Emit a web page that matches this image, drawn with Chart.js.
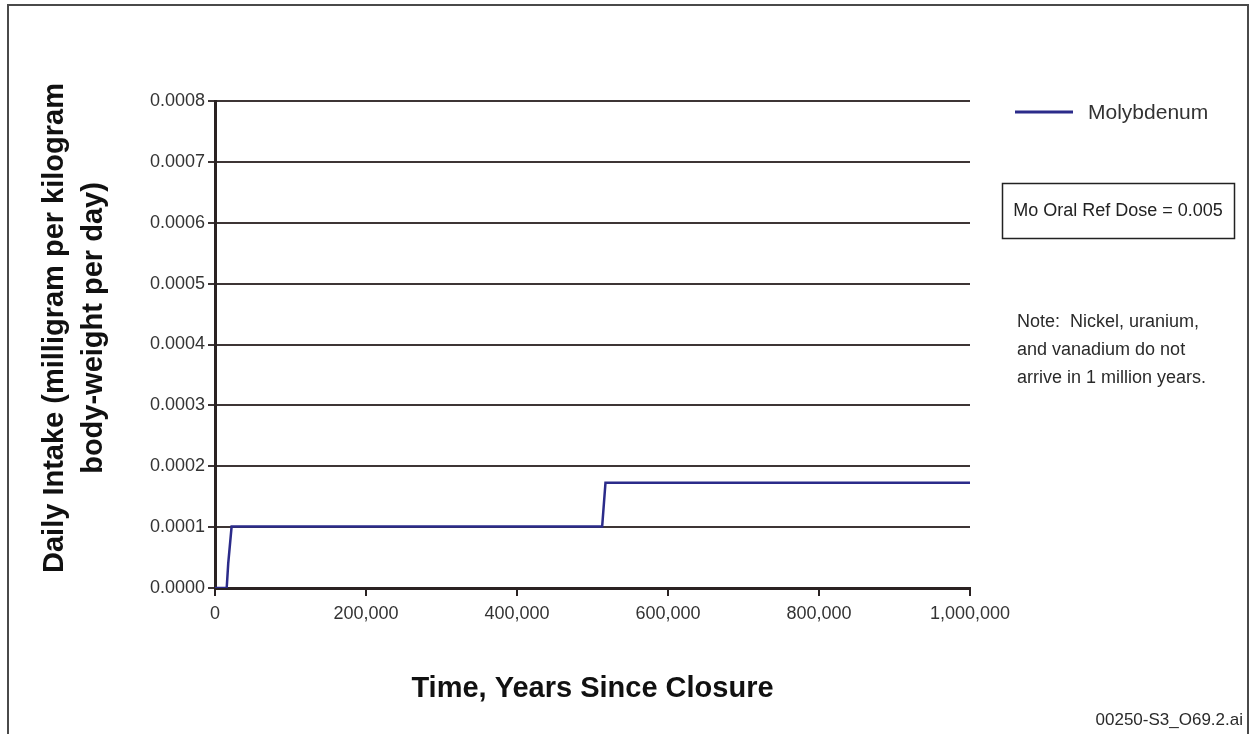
<!DOCTYPE html>
<html>
<head>
<meta charset="utf-8">
<style>
  html, body { margin: 0; padding: 0; background: #ffffff; }
  #wrap { width: 1251px; height: 734px; position: relative; }
  canvas { display: block; }
</style>
<script src="https://cdn.jsdelivr.net/npm/chart.js@4.4.1/dist/chart.umd.min.js"></script>
</head>
<body>
<div id="wrap"><canvas id="c" width="1251" height="734"></canvas></div>
<script>
// ---- data ----
const seriesName = 'Molybdenum';
const years = [0, 15500, 17500, 22000, 512800, 517200, 1000000];
const intake = [0, 0, 0.00004, 0.000101, 0.000101, 0.000173, 0.000173];
const yTicks = [0, 0.0001, 0.0002, 0.0003, 0.0004, 0.0005, 0.0006, 0.0007, 0.0008];
const xTicks = [0, 200000, 400000, 600000, 800000, 1000000];
const yTitleLines = ['Daily Intake (milligram per kilogram', 'body-weight per day)'];
const xTitle = 'Time, Years Since Closure';
const refDoseText = 'Mo Oral Ref Dose = 0.005';
const noteLines = ['Note:  Nickel, uranium,', 'and vanadium do not', 'arrive in 1 million years.'];
const fileTag = '00250-S3_O69.2.ai';

const FONT = '"Liberation Sans", Arial, Helvetica, sans-serif';
const lineColor = '#2b2b8a';
const gridColor = '#3d3535';
const axisColor = '#2a2222';

const W = 1251, H = 734;
const area = { left: 215, right: 970, top: 101, bottom: 588 };

const decorPlugin = {
  id: 'decor',
  beforeDraw(chart) {
    const ctx = chart.ctx;
    ctx.save();
    ctx.fillStyle = '#ffffff';
    ctx.fillRect(0, 0, W, H);
    // outer frame (left, top, right)
    ctx.strokeStyle = '#4a4a4a';
    ctx.lineWidth = 2;
    ctx.beginPath();
    ctx.moveTo(8, H + 2);
    ctx.lineTo(8, 5);
    ctx.lineTo(1248, 5);
    ctx.lineTo(1248, H + 2);
    ctx.stroke();
    ctx.restore();
  },
  afterDraw(chart) {
    const ctx = chart.ctx;
    const ca = chart.chartArea;
    ctx.save();
    ctx.fillStyle = '#111111';
    // y-axis title (two lines, rotated)
    ctx.font = 'bold 29px ' + FONT;
    ctx.textAlign = 'center';
    ctx.textBaseline = 'alphabetic';
    const cy = 328;
    ctx.save();
    ctx.translate(63, cy);
    ctx.rotate(-Math.PI / 2);
    ctx.fillText(yTitleLines[0], 0, 0);
    ctx.fillText(yTitleLines[1], 0, 38.5);
    ctx.restore();
    // x-axis title
    ctx.fillText(xTitle, (ca.left + ca.right) / 2, 697);

    // legend from dataset
    const ds = chart.data.datasets[0];
    ctx.strokeStyle = ds.borderColor;
    ctx.lineWidth = 3;
    ctx.beginPath();
    ctx.moveTo(1015, 112);
    ctx.lineTo(1073, 112);
    ctx.stroke();
    ctx.fillStyle = '#333333';
    ctx.font = '21px ' + FONT;
    ctx.textAlign = 'left';
    ctx.textBaseline = 'middle';
    ctx.fillText(ds.label, 1088, 113);

    // reference dose box
    ctx.strokeStyle = '#222222';
    ctx.lineWidth = 1.5;
    ctx.strokeRect(1002.5, 183.5, 232, 55);
    ctx.font = '18px ' + FONT;
    ctx.textAlign = 'center';
    ctx.fillStyle = '#222222';
    ctx.fillText(refDoseText, 1118, 211);

    // note
    ctx.textAlign = 'left';
    ctx.font = '18px ' + FONT;
    ctx.fillStyle = '#2a2a2a';
    noteLines.forEach((t, i) => ctx.fillText(t, 1017, 322 + i * 28));

    // file tag
    ctx.textAlign = 'right';
    ctx.font = '17px ' + FONT;
    ctx.fillText(fileTag, 1243, 720);
    ctx.restore();
  }
};

const points = years.map((x, i) => ({ x: x, y: intake[i] }));

new Chart(document.getElementById('c'), {
  type: 'line',
  data: {
    datasets: [{
      label: seriesName,
      data: points,
      borderColor: lineColor,
      backgroundColor: lineColor,
      borderWidth: 2.5,
      pointRadius: 0,
      tension: 0,
      fill: false
    }]
  },
  options: {
    responsive: false,
    animation: false,
    devicePixelRatio: 1,
    layout: { padding: { top: area.top, right: W - area.right, left: 0, bottom: 0 } },
    plugins: {
      legend: { display: false },
      tooltip: { enabled: false },
      title: { display: false }
    },
    scales: {
      x: {
        type: 'linear',
        min: xTicks[0],
        max: xTicks[xTicks.length - 1],
        afterFit(scale) { scale.height = H - area.bottom; },
        afterBuildTicks(scale) { scale.ticks = xTicks.map(v => ({ value: v })); },
        border: { display: true, color: axisColor, width: 3 },
        grid: { drawOnChartArea: false, drawTicks: true, tickLength: 8, color: axisColor, lineWidth: 2 },
        ticks: {
          color: '#333333',
          font: { family: FONT, size: 18 },
          padding: 7,
          maxRotation: 0,
          autoSkip: false,
          callback: v => Number(v).toLocaleString('en-US')
        }
      },
      y: {
        type: 'linear',
        min: yTicks[0],
        max: yTicks[yTicks.length - 1],
        afterFit(scale) { scale.width = area.left; },
        afterBuildTicks(scale) { scale.ticks = yTicks.map(v => ({ value: v })); },
        border: { display: true, color: axisColor, width: 3 },
        grid: { drawOnChartArea: true, drawTicks: true, tickLength: 7, color: gridColor, lineWidth: 2 },
        ticks: {
          color: '#333333',
          font: { family: FONT, size: 18 },
          padding: 3,
          autoSkip: false,
          callback: v => Number(v).toFixed(4)
        }
      }
    }
  },
  plugins: [decorPlugin]
});
</script>
</body>
</html>
